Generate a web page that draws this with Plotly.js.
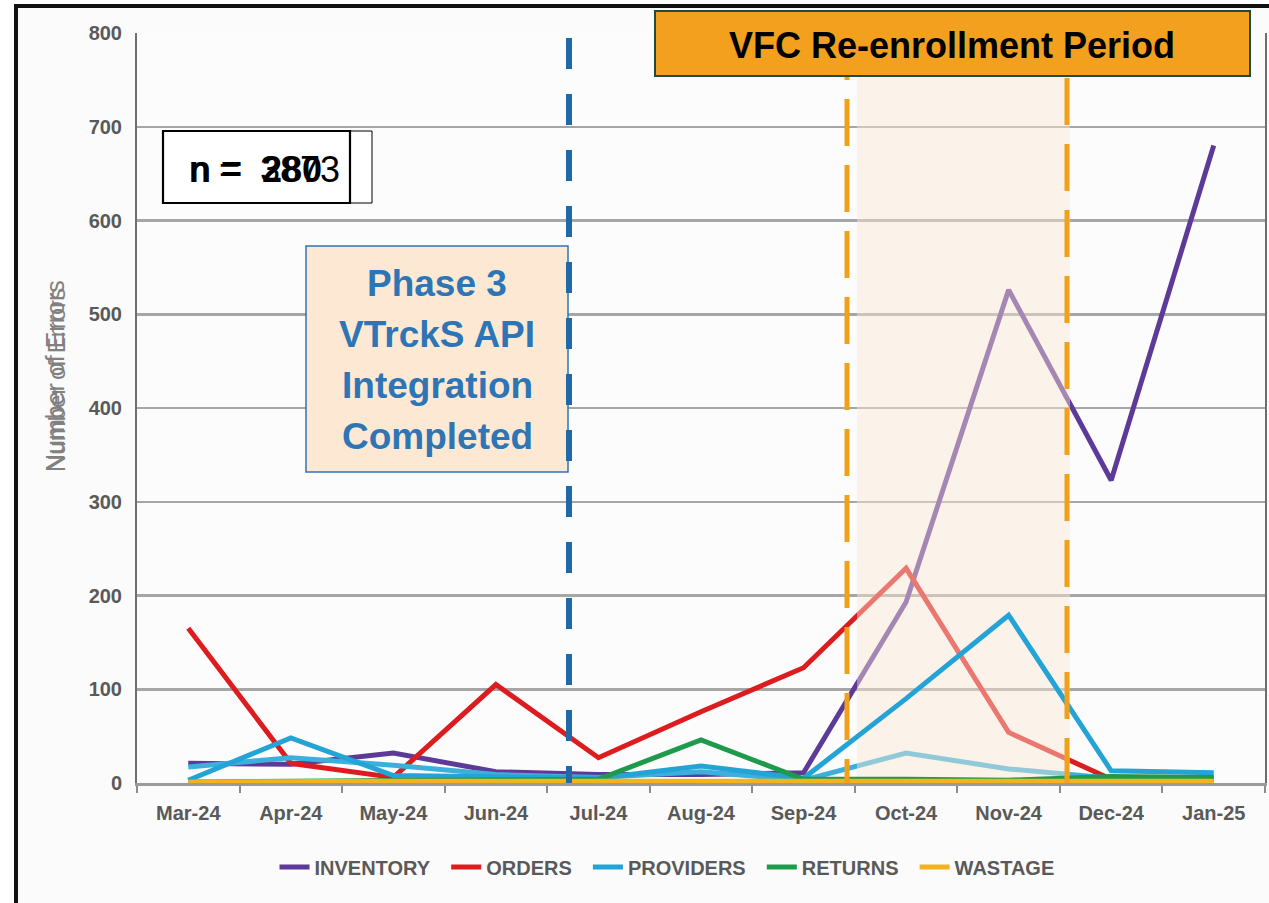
<!DOCTYPE html>
<html>
<head>
<meta charset="utf-8">
<script src="https://cdn.plot.ly/plotly-3.0.1.min.js"></script>
<style>
  html, body { margin:0; padding:0; background:#ffffff; }
  #bg { position:absolute; left:14px; top:4px; width:1255px; height:899px; background:#fbfbfb;
        border-left:4px solid #111; border-top:4px solid #111; box-sizing:border-box; }
  #chart { position:absolute; left:0; top:0; width:1269px; height:903px; }
</style>
</head>
<body>
<div id="bg"></div>
<div id="chart"></div>
<script>
// ---- data ----
const months = ['Mar-24','Apr-24','May-24','Jun-24','Jul-24','Aug-24','Sep-24','Oct-24','Nov-24','Dec-24','Jan-25'];
const inventory = [21, 20, 32, 12, 9, 9, 11, 193, 526, 323, 680];
const orders    = [165, 21, 6, 105, 27, 76, 123, 229, 54, 4, 3];
const providers = [3, 48, 8, 6, 5, 18, 5, 90, 179, 13, 11];
const providersB = [17, 27, 19, 9, 6, 12, 3, 32, 15, 5, 5];
const returns   = [1, 2, 2, 3, 4, 46, 4, 4, 3, 7, 6];
const wastage   = [1, 2, 2, 2, 2, 3, 2, 3, 2, 2, 2];
const yTicks = [0, 100, 200, 300, 400, 500, 600, 700, 800];

const seriesNames = ['INVENTORY', 'ORDERS', 'PROVIDERS', 'RETURNS', 'WASTAGE'];
const colors = ['#5e3a98', '#dc1c1e', '#24a3d6', '#1e9a4c', '#f1b31f'];

// plot area in px: l=137, t=33, w=1128, h=750
const L = 137, T = 33, W = 1128, H = 750;
const px = v => (v - L) / W;
const py = v => (T + H - v) / H;

const pad = '\u00a0\u00a0';
function tr(y, i, axes, extra) {
  return Object.assign({
    type: 'scatter', mode: 'lines', x: months, y: y,
    name: seriesNames[i] + (i < 4 ? pad : ''),
    line: { color: colors[i], width: 5 },
    xaxis: axes[0], yaxis: axes[1],
    legendrank: i + 1,
    hoverinfo: 'skip'
  }, extra || {});
}

// shaded re-enrollment band, drawn between the two groups of lines (paper-like overlay axes 0..1)
const bandX = [px(857), px(1070), px(1070), px(857)];
const bandY = [0, 0, 1, 1];

const traces = [
  tr(inventory, 0, ['x', 'y']),
  tr(orders, 1, ['x', 'y']),
  Object.assign(tr(providersB, 2, ['x', 'y']), { showlegend: false, line: { color: '#3bb0dc', width: 5 } }),
  { type: 'scatter', mode: 'none', x: bandX, y: bandY, xaxis: 'x2', yaxis: 'y2', fill: 'toself',
    fillcolor: 'rgba(250,232,212,0.45)', showlegend: false, hoverinfo: 'skip' },
  tr(providers, 2, ['x3', 'y3']),
  tr(returns, 3, ['x3', 'y3']),
  tr(wastage, 4, ['x3', 'y3'])
];

const FONT = 'Liberation Sans, Arial, sans-serif';
const GRAY = '#595959';

const shapes = [
  // orange dashed lines
  { type: 'line', xref: 'paper', yref: 'paper', x0: px(847), x1: px(847), y0: 1, y1: 0,
    line: { color: '#f29f1c', width: 5, dash: '47px,19px' }, layer: 'above' },
  { type: 'line', xref: 'paper', yref: 'paper', x0: px(1067), x1: px(1067), y0: py(78), y1: 0,
    line: { color: '#f29f1c', width: 5, dash: '47px,19px' }, layer: 'above' },
  // phase 3 box
  { type: 'rect', xref: 'paper', yref: 'paper', x0: px(306), x1: px(568), y0: py(472), y1: py(246),
    fillcolor: '#fde9d3', line: { color: '#2e75b6', width: 1.5 }, layer: 'above' },
  // blue dashed line
  { type: 'line', xref: 'paper', yref: 'paper', x0: px(569), x1: px(569), y0: py(38), y1: 0,
    line: { color: '#1f69a8', width: 6, dash: '31px,25px' }, layer: 'above' },
  // VFC box
  { type: 'rect', xref: 'paper', yref: 'paper', x0: px(655), x1: px(1250), y0: py(76), y1: py(11),
    fillcolor: '#f2a01e', line: { color: '#1e4d3a', width: 2 }, layer: 'above' },
  // n boxes
  { type: 'rect', xref: 'paper', yref: 'paper', x0: px(163), x1: px(372), y0: py(203), y1: py(131),
    fillcolor: '#ffffff', line: { color: '#000', width: 1 }, layer: 'above' },
  { type: 'rect', xref: 'paper', yref: 'paper', x0: px(163), x1: px(350), y0: py(203), y1: py(131),
    fillcolor: 'rgba(255,255,255,0)', line: { color: '#000', width: 2.2 }, layer: 'above' }
];

const annotations = [
  { xref: 'paper', yref: 'paper', x: px(952), y: py(45), text: 'VFC Re-enrollment Period', showarrow: false,
    xanchor: 'center', yanchor: 'middle', font: { family: FONT, size: 36, color: '#000', weight: 'bold' } },
  { xref: 'paper', yref: 'paper', x: px(437), y: py(283), text: 'Phase 3', showarrow: false,
    xanchor: 'center', yanchor: 'middle', font: { family: FONT, size: 37, color: '#2e75b6', weight: 'bold' } },
  { xref: 'paper', yref: 'paper', x: px(437), y: py(334), text: 'VTrckS API', showarrow: false,
    xanchor: 'center', yanchor: 'middle', font: { family: FONT, size: 37, color: '#2e75b6', weight: 'bold' } },
  { xref: 'paper', yref: 'paper', x: px(437), y: py(385), text: 'Integration', showarrow: false,
    xanchor: 'center', yanchor: 'middle', font: { family: FONT, size: 37, color: '#2e75b6', weight: 'bold' } },
  { xref: 'paper', yref: 'paper', x: px(437), y: py(436), text: 'Completed', showarrow: false,
    xanchor: 'center', yanchor: 'middle', font: { family: FONT, size: 37, color: '#2e75b6', weight: 'bold' } },
  { xref: 'paper', yref: 'paper', x: px(187), y: py(170), text: 'n = \u00a03873', showarrow: false,
    xanchor: 'left', yanchor: 'middle', font: { family: FONT, size: 36, color: '#000' } },
  { xref: 'paper', yref: 'paper', x: px(187), y: py(170), text: 'n = \u00a0280', showarrow: false,
    xanchor: 'left', yanchor: 'middle', font: { family: FONT, size: 36, color: '#000', weight: 'bold' } },
  { xref: 'paper', yref: 'paper', x: px(55), y: py(474), text: 'Number of Errors', showarrow: false, textangle: -90,
    xanchor: 'center', yanchor: 'bottom', font: { family: FONT, size: 25, color: '#808080' } },
  { xref: 'paper', yref: 'paper', x: px(56), y: py(474), text: 'Number of Errors', showarrow: false, textangle: -90,
    xanchor: 'center', yanchor: 'bottom', font: { family: FONT, size: 24, color: '#808080' } }
];

const catAxis = {
  type: 'category', range: [-0.5, 10.5], fixedrange: true,
  showgrid: false, showline: true, linecolor: '#9a9a9a', linewidth: 2.5, mirror: false,
  ticks: 'outside', tickson: 'boundaries', ticklen: 7, tickwidth: 2, tickcolor: '#8c8c8c',
  ticklabelstandoff: 10,
  tickfont: { family: FONT, size: 20, color: GRAY, weight: 'bold' }
};

const layout = {
  width: 1269, height: 903,
  margin: { l: L, r: 1269 - L - W, t: T, b: 903 - T - H },
  paper_bgcolor: 'rgba(0,0,0,0)',
  plot_bgcolor: '#fcfcfc',
  showlegend: true,
  legend: { orientation: 'h', x: px(667), xanchor: 'center', y: py(867), yanchor: 'middle',
            traceorder: 'normal',
            font: { family: FONT, size: 20, color: GRAY, weight: 'bold' }, bgcolor: 'rgba(0,0,0,0)' },
  xaxis: catAxis,
  yaxis: {
    range: [0, 800], tickvals: yTicks, fixedrange: true,
    showgrid: true, gridcolor: '#a6a6a6', gridwidth: 2.5, zeroline: false,
    showline: true, linecolor: '#6e6e6e', linewidth: 2, mirror: true,
    ticks: '', ticklabelstandoff: 9,
    tickfont: { family: FONT, size: 20, color: GRAY, weight: 'bold' }
  },
  xaxis2: { overlaying: 'x', range: [0, 1], visible: false, fixedrange: true },
  yaxis2: { overlaying: 'y', range: [0, 1], visible: false, fixedrange: true },
  xaxis3: Object.assign({}, catAxis, { overlaying: 'x', visible: false }),
  yaxis3: { overlaying: 'y', range: [0, 800], visible: false, fixedrange: true },
  shapes: shapes,
  annotations: annotations,
  hovermode: false
};

Plotly.newPlot('chart', traces, layout, { displayModeBar: false, staticPlot: true });
</script>
</body>
</html>
